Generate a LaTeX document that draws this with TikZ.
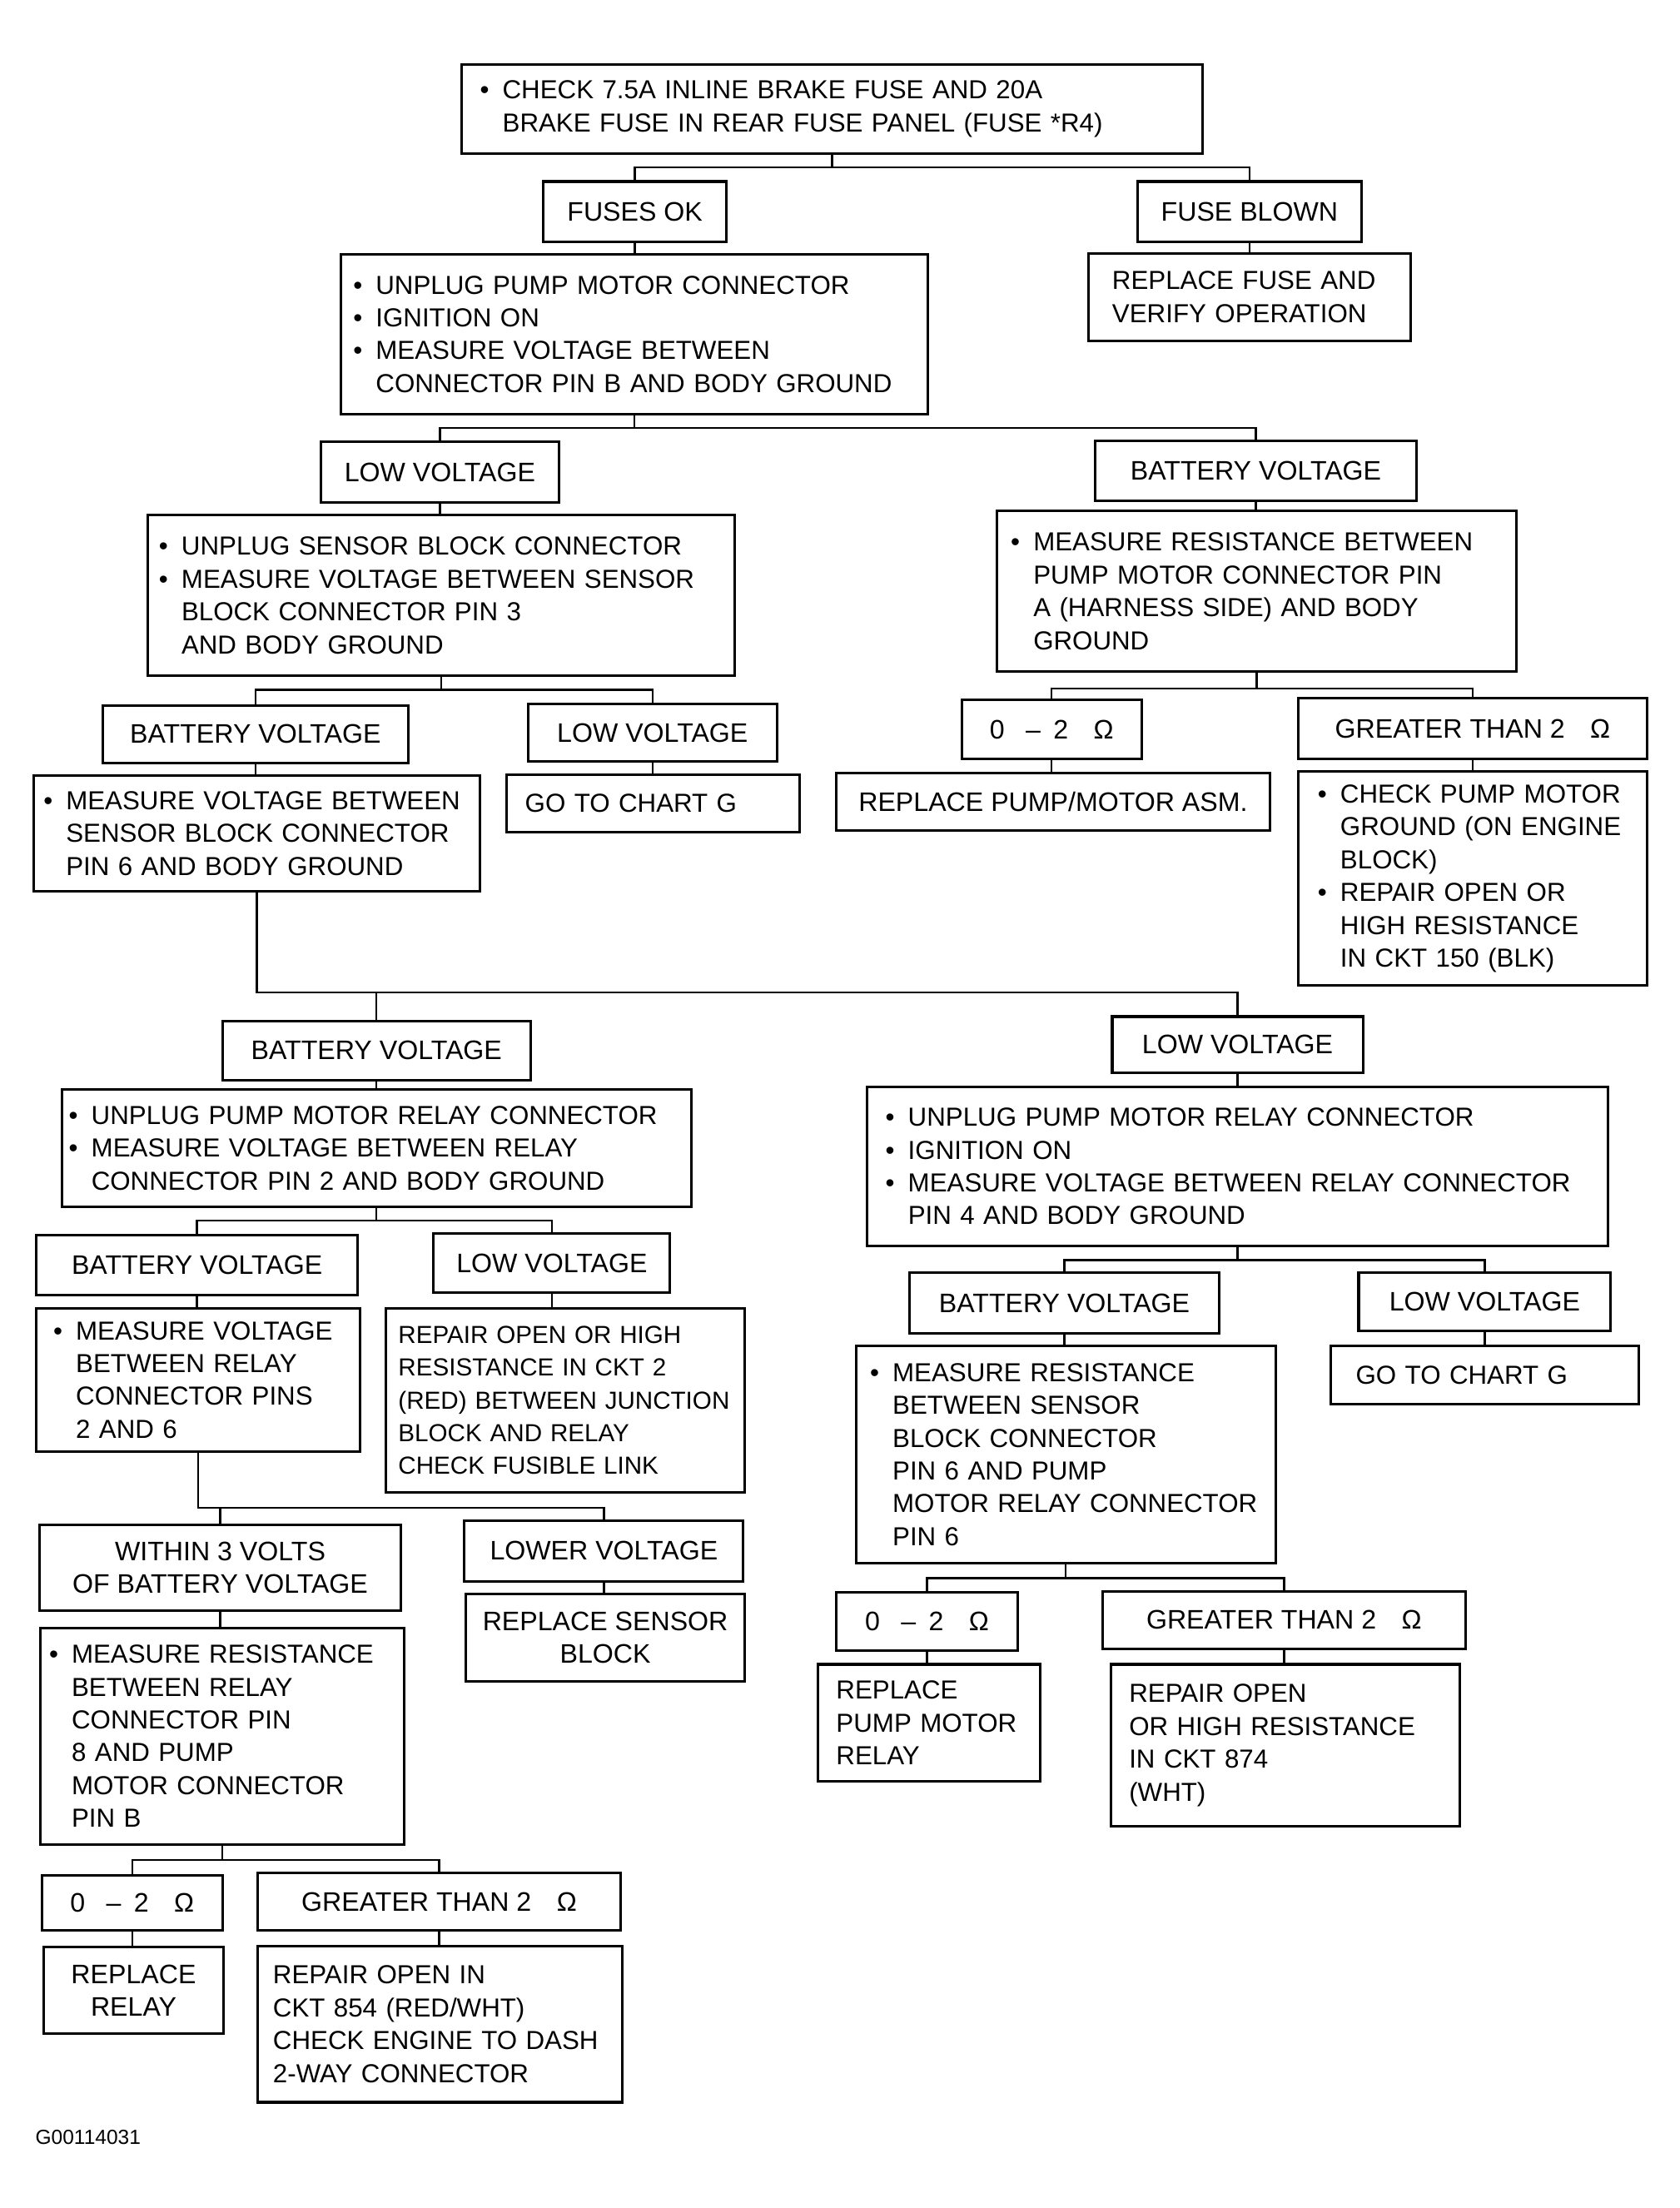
\documentclass[tikz,border=0pt]{standalone}
\usepackage{fontspec}
\setmainfont{Liberation Sans}
\usetikzlibrary{calc}

\newcommand{\bul}{\makebox[16pt][l]{\textbullet}}
\newcommand{\skp}{\hspace*{16pt}}

\begin{document}
\begin{tikzpicture}[x=1pt, y=-1pt]
  \useasboundingbox (0,0) rectangle (1193,1568);
  \begin{scope}
    \tikzset{box/.style = {draw, line width=1.8pt, anchor=north west, inner ysep=0pt, font=\fontsize{18.5}{23.3}\selectfont}}
    \tikzset{txt/.style n args = {3}{inner xsep=#3pt, minimum width=#1pt, minimum height=#2pt, align=left,
        /utils/exec={\pgfmathsetlengthmacro\boxtw{#1pt-2*#3pt}}, text width=\boxtw}}
    \tikzset{lb/.style 2 args = {inner xsep=0pt, minimum width=#1pt, minimum height=#2pt, align=center, font=\fontsize{19}{23.3}\selectfont}}
    \tikzset{edge/.style = {line width=1.4pt}}

    \node[box, txt={526}{63}{13}] (top) at (327,45) {\bul CHECK 7.5A INLINE BRAKE FUSE AND 20A\\ \skp BRAKE FUSE IN REAR FUSE PANEL (FUSE *R4)};
    \node[box, lb={130}{43}] (ok) at (385,128) {FUSES OK};
    \node[box, lb={159}{43}] (blown) at (807,128) {FUSE BLOWN};
    \node[box, txt={417}{113}{9}] (unplug) at (241,180) {\bul UNPLUG PUMP MOTOR CONNECTOR\\ \bul IGNITION ON\\ \bul MEASURE VOLTAGE BETWEEN\\ \skp CONNECTOR PIN B AND BODY GROUND};
    \node[box, txt={229}{62}{17}] (refuse) at (772,179) {REPLACE FUSE AND\\ VERIFY OPERATION};
    \node[box, lb={169}{43}] (lowA) at (227,313) {LOW VOLTAGE};
    \node[box, lb={228}{43}] (batA) at (777,312) {BATTERY VOLTAGE};
    \node[box, txt={417}{114}{8}] (sensor) at (104,365) {\bul UNPLUG SENSOR BLOCK CONNECTOR\\ \bul MEASURE VOLTAGE BETWEEN SENSOR\\ \skp BLOCK CONNECTOR PIN 3\\ \skp AND BODY GROUND};
    \node[box, txt={369}{114}{10}] (resA) at (707,362) {\bul MEASURE RESISTANCE BETWEEN\\ \skp PUMP MOTOR CONNECTOR PIN\\ \skp A (HARNESS SIDE) AND BODY\\ \skp GROUND};
    \node[box, lb={217}{41}] (batB) at (72,500) {BATTERY VOLTAGE};
    \node[box, lb={177}{41}] (lowB) at (374,499) {LOW VOLTAGE};
    \node[box, txt={317}{82}{7}] (pinsix) at (23,550) {\bul MEASURE VOLTAGE BETWEEN\\ \skp SENSOR BLOCK CONNECTOR\\ \skp PIN 6 AND BODY GROUND};
    \node[box, txt={208}{41}{13}] (chartA) at (359,549) {GO TO CHART G};
    \node[box, lb={128}{42}] (ohmA) at (682,496) {0\hspace{15pt}–\hspace{9pt}2\hspace{18pt}Ω};
    \node[box, lb={248}{43}] (gtA) at (921,495) {GREATER THAN 2\hspace{18pt}Ω};
    \node[box, lb={308}{41}] (pumpasm) at (593,548) {REPLACE PUMP/MOTOR ASM.};
    \node[box, txt={248}{152}{14}] (ground) at (921,547) {\bul CHECK PUMP MOTOR\\ \skp GROUND (ON ENGINE\\ \skp BLOCK)\\ \bul REPAIR OPEN OR\\ \skp HIGH RESISTANCE\\ \skp IN CKT 150 (BLK)};
    \node[box, lb={219}{42}] (batC) at (157,724) {BATTERY VOLTAGE};
    \node[box, lb={178}{40}] (lowC) at (789,721) {LOW VOLTAGE};
    \node[box, txt={447}{83}{5}] (relayA) at (43,773) {\bul UNPLUG PUMP MOTOR RELAY CONNECTOR\\ \bul MEASURE VOLTAGE BETWEEN RELAY\\ \skp CONNECTOR PIN 2 AND BODY GROUND};
    \node[box, txt={526}{113}{13}] (relayB) at (615,771) {\bul UNPLUG PUMP MOTOR RELAY CONNECTOR\\ \bul IGNITION ON\\ \bul MEASURE VOLTAGE BETWEEN RELAY CONNECTOR\\ \skp PIN 4 AND BODY GROUND};
    \node[box, lb={228}{43}] (batD) at (25,876) {BATTERY VOLTAGE};
    \node[box, lb={168}{42}] (lowD) at (307,875) {LOW VOLTAGE};
    \node[box, txt={230}{102}{12}] (pinstwo) at (25,928) {\bul MEASURE VOLTAGE\\ \skp BETWEEN RELAY\\ \skp CONNECTOR PINS\\ \skp 2 AND 6};
    \node[box, txt={255}{131}{9}, font=\fontsize{17.5}{23.3}\selectfont] (cktA) at (273,928) {REPAIR OPEN OR HIGH\\ RESISTANCE IN CKT 2\\ (RED) BETWEEN JUNCTION\\ BLOCK AND RELAY\\ CHECK FUSIBLE LINK};
    \node[box, lb={257}{61}] (within) at (27,1082) {WITHIN 3 VOLTS\\ OF BATTERY VOLTAGE};
    \node[box, lb={198}{43}] (lower) at (329,1079) {LOWER VOLTAGE};
    \node[box, lb={198}{62}] (sensblk) at (330,1131) {REPLACE SENSOR\\ BLOCK};
    \node[box, txt={258}{154}{6}] (resB) at (28,1155) {\bul MEASURE RESISTANCE\\ \skp BETWEEN RELAY\\ \skp CONNECTOR PIN\\ \skp 8 AND PUMP\\ \skp MOTOR CONNECTOR\\ \skp PIN B};
    \node[box, lb={128}{39}] (ohmB) at (29,1331) {0\hspace{15pt}–\hspace{9pt}2\hspace{18pt}Ω};
    \node[box, lb={258}{41}] (gtB) at (182,1329) {GREATER THAN 2\hspace{18pt}Ω};
    \node[box, lb={128}{61}] (relayrep) at (30,1382) {REPLACE\\ RELAY};
    \node[box, txt={259}{111}{11}] (cktB) at (182,1381) {REPAIR OPEN IN\\ CKT 854 (RED/WHT)\\ CHECK ENGINE TO DASH\\ 2-WAY CONNECTOR};
    \node[box, lb={220}{43}] (batE) at (645,903) {BATTERY VOLTAGE};
    \node[box, lb={179}{41}] (lowE) at (964,903) {LOW VOLTAGE};
    \node[box, txt={298}{154}{10}] (resC) at (607,955) {\bul MEASURE RESISTANCE\\ \skp BETWEEN SENSOR\\ \skp BLOCK CONNECTOR\\ \skp PIN 6 AND PUMP\\ \skp MOTOR RELAY CONNECTOR\\ \skp PIN 6};
    \node[box, txt={219}{41}{18}] (chartB) at (944,955) {GO TO CHART G};
    \node[box, lb={129}{41}] (ohmC) at (593,1130) {0\hspace{15pt}–\hspace{9pt}2\hspace{18pt}Ω};
    \node[box, lb={258}{41}] (gtC) at (782,1129) {GREATER THAN 2\hspace{18pt}Ω};
    \node[box, txt={158}{83}{13}] (motorrel) at (580,1181) {REPLACE\\ PUMP MOTOR\\ RELAY};
    \node[box, txt={248}{115}{13}] (cktC) at (788,1181) {REPAIR OPEN\\ OR HIGH RESISTANCE\\ IN CKT 874\\ (WHT)};

    \node[anchor=west, inner sep=0pt, font=\fontsize{14.5}{17}\selectfont] (code) at (25,1518) {G00114031};

    \draw[edge] (top.south) -- ++(0,9) coordinate (j1) -| (ok.north);
    \draw[edge] (j1) -| (blown.north);
    \draw[edge] (ok.south) -- (ok.south |- unplug.north);
    \draw[edge] (blown.south) -- (blown.south |- refuse.north);
    \draw[edge] (unplug.south) -- ++(0,9) coordinate (j2) -| (lowA.north);
    \draw[edge] (j2) -| (batA.north);
    \draw[edge] (lowA.south) -- (lowA.south |- sensor.north);
    \draw[edge] (batA.south) -- (batA.south |- resA.north);
    \draw[edge] (sensor.south) -- ++(0,9) coordinate (j3) -| (batB.north);
    \draw[edge] (j3) -| (lowB.north);
    \draw[edge] (batB.south) -- (batB.south |- pinsix.north);
    \draw[edge] (lowB.south) -- (lowB.south |- chartA.north);
    \draw[edge] (resA.south) -- ++(0,11) coordinate (j4) -| (ohmA.north);
    \draw[edge] (j4) -| (gtA.north);
    \draw[edge] (ohmA.south) -- (ohmA.south |- pumpasm.north);
    \draw[edge] (gtA.south) -- (gtA.south |- ground.north);
    \draw[edge] (pinsix.south) -- ++(0,71) coordinate (j5) -| (batC.north);
    \draw[edge] (j5) -| (lowC.north);
    \draw[edge] (batC.south) -- (batC.south |- relayA.north);
    \draw[edge] (lowC.south) -- (lowC.south |- relayB.north);
    \draw[edge] (relayA.south) -- ++(0,9) coordinate (j6) -| (batD.north);
    \draw[edge] (j6) -| (lowD.north);
    \draw[edge] (batD.south) -- (batD.south |- pinstwo.north);
    \draw[edge] (lowD.south) -- (lowD.south |- cktA.north);
    \draw[edge] (pinstwo.south) -- ++(0,39) coordinate (j7) -| (within.north);
    \draw[edge] (j7) -| (lower.north);
    \draw[edge] (within.south) -- (within.south |- resB.north);
    \draw[edge] (lower.south) -- (lower.south |- sensblk.north);
    \draw[edge] (resB.south) -- ++(0,10) coordinate (j8) -| (ohmB.north);
    \draw[edge] (j8) -| (gtB.north);
    \draw[edge] (ohmB.south) -- (ohmB.south |- relayrep.north);
    \draw[edge] (gtB.south) -- (gtB.south |- cktB.north);
    \draw[edge] (relayB.south) -- ++(0,9) coordinate (j9) -| (batE.north);
    \draw[edge] (j9) -| (lowE.north);
    \draw[edge] (batE.south) -- (batE.south |- resC.north);
    \draw[edge] (lowE.south) -- (lowE.south |- chartB.north);
    \draw[edge] (resC.south) -- ++(0,10) coordinate (j10) -| (ohmC.north);
    \draw[edge] (j10) -| (gtC.north);
    \draw[edge] (ohmC.south) -- (ohmC.south |- motorrel.north);
    \draw[edge] (gtC.south) -- (gtC.south |- cktC.north);
  \end{scope}
\end{tikzpicture}
\end{document}
